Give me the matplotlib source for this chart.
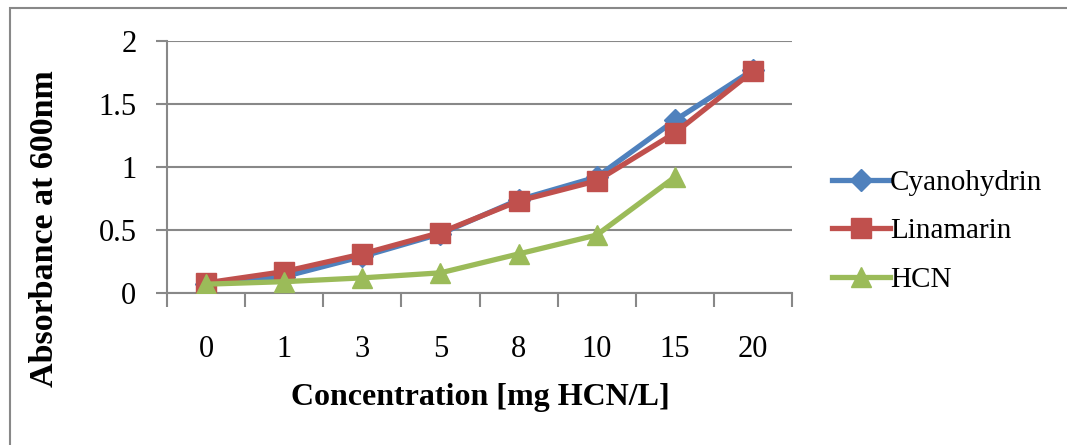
import matplotlib
matplotlib.use("Agg")
import matplotlib.pyplot as plt
from matplotlib.patches import Rectangle
import numpy as np

categories = ["0", "1", "3", "5", "8", "10", "15", "20"]
cyanohydrin = [0.07, 0.13, 0.29, 0.47, 0.74, 0.92, 1.37, 1.77]
linamarin = [0.08, 0.17, 0.31, 0.48, 0.73, 0.89, 1.27, 1.76]
hcn = [0.07, 0.09, 0.12, 0.16, 0.31, 0.46, 0.92]
y_ticks = [0, 0.5, 1, 1.5, 2]
y_tick_labels = ["0", "0.5", "1", "1.5", "2"]

plt.rcParams['font.family'] = ['Liberation Serif', 'DejaVu Serif']

fig = plt.figure(figsize=(10.67, 4.45), dpi=100)
fig.patches.append(Rectangle((10/1067, -0.1), 1.2, 1.1 - 8/445, transform=fig.transFigure,
                             fill=False, edgecolor="#888888", linewidth=1.5))
ax = fig.add_axes([167/1067, 1 - 293/445, (792-167)/1067, (293-41)/445])

x = np.arange(len(categories))
ax.plot(x, cyanohydrin, color="#4F81BD", lw=3.8, marker="D", ms=11, label="Cyanohydrin", zorder=3)
ax.plot(x, linamarin, color="#C0504D", lw=3.8, marker="s", ms=14, label="Linamarin", zorder=4)
ax.plot(x[:len(hcn)], hcn, color="#9BBB59", lw=3.8, marker="^", ms=15, label="HCN", zorder=5)

ax.set_xlim(-0.5, len(categories) - 0.5)
ax.set_ylim(0, 2)
ax.set_yticks(y_ticks)
ax.set_yticklabels(y_tick_labels, fontsize=22)
ax.set_xticks(np.arange(-0.5, len(categories), 1.0))
ax.set_xticklabels([])
ax.set_xticks(x, minor=True)
ax.set_xticklabels(categories, minor=True, fontsize=22)
ax.tick_params(axis='x', which='major', length=10, width=1.5, color="#888888", direction='out')
ax.tick_params(axis='x', which='minor', length=0, pad=30)
ax.tick_params(axis='y', length=8, width=1.5, color="#888888", pad=14)
ax.yaxis.grid(True, color="#888888", lw=1.5)
ax.set_axisbelow(True)
for s in ["top", "right"]:
    ax.spines[s].set_visible(False)
for s in ["left", "bottom"]:
    ax.spines[s].set_color("#888888")
    ax.spines[s].set_linewidth(1.5)

fig.text(480/1067, 1 - 397/445, "Concentration [mg HCN/L]", fontsize=23, fontweight="bold",
         ha="center", va="center")
fig.text(45/1067, 1 - 229/445, "Absorbance at 600nm", fontsize=24.5, fontweight="bold",
         ha="center", va="center", rotation=90)

leg = ax.legend(loc="center left", bbox_to_anchor=(1.045, 0.245), frameon=False, fontsize=21,
                handlelength=2.0, handletextpad=0.0, labelspacing=0.75, borderaxespad=0)

fig.savefig("out.png", dpi=100)
